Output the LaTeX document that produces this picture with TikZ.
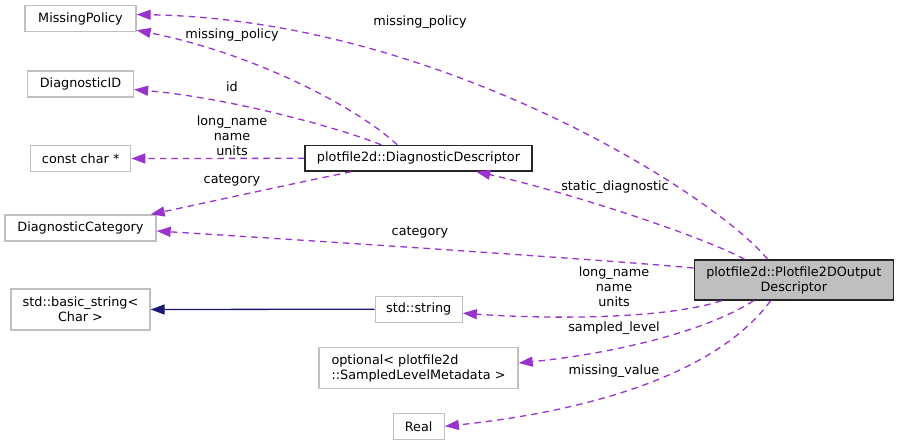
\documentclass[tikz,border=0pt]{standalone}
\usepackage{fontspec}
\setmainfont{DejaVu Sans}
\usetikzlibrary{arrows.meta,calc}
\definecolor{orchid}{HTML}{9A32CD}
\definecolor{midnight}{HTML}{191970}
\definecolor{greyline}{HTML}{BFBFBF}
\definecolor{greyfill}{HTML}{BFBFBF}
\tikzset{
  cls/.style={draw=greyline, line width=1.3pt, rectangle, inner sep=0pt, align=center, text=black},
  mainbox/.style={draw=black!85, line width=1.4pt, rectangle, inner sep=0pt, align=center},
  lbl/.style={inner sep=0pt, align=center, text=black},
  uses/.style={draw=orchid, line width=1.3pt, dash pattern=on 6.5pt off 5pt, -{Triangle[length=14pt,width=10pt,fill=orchid]}},
  inherit/.style={draw=midnight, line width=1.3pt, -{Triangle[length=14pt,width=10pt,fill=midnight]}},
}
\begin{document}
\begin{tikzpicture}[x=1pt,y=-1pt,font=\fontsize{12.8}{15}\selectfont]
\useasboundingbox (0,0) rectangle (899,445);
% class boxes
\node[cls, minimum width=111pt, minimum height=26pt] (mp) at (80.5,18.5) {MissingPolicy};
\node[cls, minimum width=106pt, minimum height=26pt] (did) at (80.5,84) {DiagnosticID};
\node[cls, minimum width=100pt, minimum height=26pt] (cc) at (80.7,158.5) {const char *};
\node[cls, minimum width=151pt, minimum height=26pt] (dc) at (80.5,228) {DiagnosticCategory};
\node[cls, minimum width=139pt, minimum height=41pt] (bs) at (80.5,309.5) {std::basic\_string<\\Char >};
\node[mainbox, minimum width=227pt, minimum height=25.5pt] (dd) at (418.5,158.3) {plotfile2d::DiagnosticDescriptor};
\node[mainbox, fill=greyfill, minimum width=199pt, minimum height=40pt] (pd) at (793.8,280) {plotfile2d::Plotfile2DOutput\\Descriptor};
\node[cls, minimum width=87pt, minimum height=26pt] (str) at (418.7,309.2) {std::string};
\node[cls, align=left, minimum width=199pt, minimum height=41pt] (opt) at (418.5,368) {optional< plotfile2d\\::SampledLevelMetadata >};
\node[cls, minimum width=51pt, minimum height=26pt] (real) at (418.7,426.3) {Real};
% connectors
\draw[uses] ($(pd.north west)+(74,0)$) .. controls (715,195) and (440,20) .. ($(mp.east)+(0,-4)$);
\draw[uses] ($(dd.north west)+(93,0)$) .. controls (360,110) and (260,55) .. ($(mp.south east)+(0,-2)$);
\draw[uses] ($(dd.north west)+(77,0)$) .. controls (340,128) and (230,98) .. ($(did.east)+(0,5.5)$);
\draw[uses] (dd.west) -- (cc.east);
\draw[uses] ($(dd.south west)+(47,0)$) .. controls (300,182) and (200,204) .. ($(dc.north east)+(-6,0)$);
\draw[uses] ($(pd.north west)+(51,0)$) .. controls (700,235) and (560,190) .. ($(dd.south west)+(172,0)$);
\draw[uses] ($(pd.west)+(0,-12)$) .. controls (620,261) and (350,243) .. ($(dc.east)+(0,3)$);
\draw[uses] ($(pd.south west)+(28,0)$) .. controls (670,318) and (560,320) .. ($(str.east)+(0,4)$);
\draw[uses] ($(pd.south west)+(60,0)$) .. controls (700,335) and (600,355) .. ($(opt.east)+(0,-5)$);
\draw[uses] ($(pd.south west)+(77,0)$) .. controls (720,370) and (600,410) .. (real.east);
\draw[inherit] (str.west) -- (bs.east);
% edge labels
\node[lbl] (l1) at (420,22) {missing\_policy};
\node[lbl] (l2) at (232,35) {missing\_policy};
\node[lbl] (l3) at (232,87) {id};
\node[lbl] (l4) at (232,135.7) {long\_name\\name\\units};
\node[lbl] (l5) at (232,180) {category};
\node[lbl] (l6) at (615,187) {static\_diagnostic};
\node[lbl] (l7) at (420,232) {category};
\node[lbl] (l8) at (614,287) {long\_name\\name\\units};
\node[lbl] (l9) at (614,328) {sampled\_level};
\node[lbl] (l10) at (614,371) {missing\_value};
\end{tikzpicture}
\end{document}
